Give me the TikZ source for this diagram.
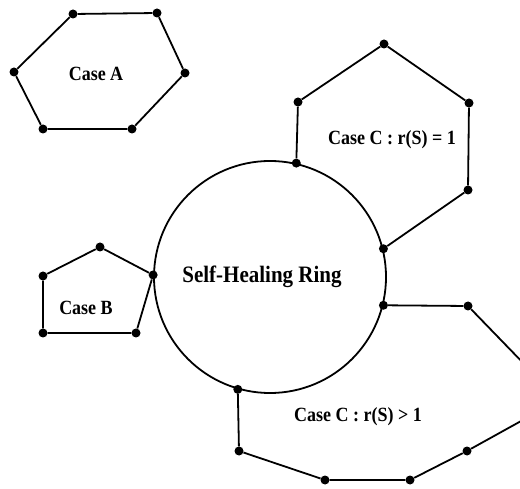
\documentclass[tikz,border=0pt]{standalone}
\usepackage{fontspec}
\setmainfont{Liberation Serif}
\begin{document}
\begin{tikzpicture}[x=1pt,y=-1pt,
  vertex/.style={circle,fill=black,inner sep=0pt,minimum size=9pt},
  link/.style={line width=1.8pt},
  caselabel/.style={font=\fontsize{18}{20}\selectfont\bfseries},
  ringlabel/.style={font=\fontsize{21}{24}\selectfont\bfseries}]
\clip (0,0) rectangle (520,489);
\fill[white] (0,0) rectangle (520,489);

% central ring
\node[draw,circle,line width=1.8pt,minimum size=232pt,inner sep=0pt] (ring) at (270,277) {};
\node[ringlabel] (ringtext) at (262,277) {\scalebox{1}[1.12]{Self-Healing Ring}};

% Case A: detached hexagon
\node[vertex] (a1) at (73,14) {};
\node[vertex] (a2) at (157,13) {};
\node[vertex] (a3) at (185,73) {};
\node[vertex] (a4) at (132,129) {};
\node[vertex] (a5) at (43,129) {};
\node[vertex] (a6) at (14,72) {};
\draw[link] (a1) -- (a2) -- (a3) -- (a4) -- (a5) -- (a6) -- (a1);
\node[caselabel] (la) at (96,74) {\scalebox{1}[1.12]{Case A}};

% Case B: pentagon sharing one node with the ring
\node[vertex] (b1) at (ring.179.5) {};
\node[vertex] (b2) at (100,247) {};
\node[vertex] (b3) at (43,276) {};
\node[vertex] (b4) at (43,333) {};
\node[vertex] (b5) at (136,333) {};
\draw[link] (b1) -- (b2) -- (b3) -- (b4) -- (b5) -- (b1);
\node[caselabel] (lb) at (86,308) {\scalebox{1}[1.12]{Case B}};

% Case C with r(S) = 1: path between two ring nodes
\node[vertex] (c1) at (ring.77) {};
\node[vertex] (c2) at (298,102) {};
\node[vertex] (c3) at (384,44) {};
\node[vertex] (c4) at (469,103) {};
\node[vertex] (c5) at (468,190) {};
\node[vertex] (c6) at (ring.14.7) {};
\draw[link] (c1) -- (c2) -- (c3) -- (c4) -- (c5) -- (c6);
\node[caselabel] (lc) at (392,140) {\scalebox{1}[1.12]{Case C : r(S) = 1}};

% Case C with r(S) > 1: longer path between two ring nodes
\node[vertex] (d1) at (ring.-14.4) {};
\node[vertex] (d2) at (468,306) {};
\coordinate (d3) at (559,400);
\node[vertex] (d4) at (467,451) {};
\node[vertex] (d5) at (410,480) {};
\node[vertex] (d6) at (325,480) {};
\node[vertex] (d7) at (239,451) {};
\node[vertex] (d8) at (ring.254.9) {};
\draw[link] (d1) -- (d2) -- (d3) -- (d4) -- (d5) -- (d6) -- (d7) -- (d8);
\node[caselabel] (ld) at (358,417) {\scalebox{1}[1.12]{Case C : r(S) > 1}};
\end{tikzpicture}
\end{document}
